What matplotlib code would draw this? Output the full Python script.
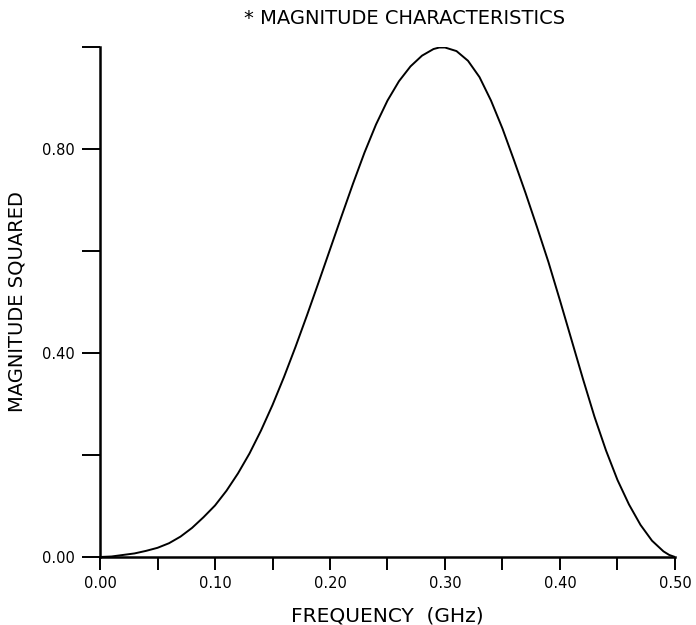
import numpy as np
import matplotlib
matplotlib.use('Agg')
import matplotlib.pyplot as plt

# Magnitude squared of the filter response
freq_ghz = [0.00, 0.01, 0.02, 0.03, 0.04, 0.05, 0.06, 0.07, 0.08, 0.09,
            0.10, 0.11, 0.12, 0.13, 0.14, 0.15, 0.16, 0.17, 0.18, 0.19,
            0.20, 0.21, 0.22, 0.23, 0.24, 0.25, 0.26, 0.27, 0.28, 0.29,
            0.295, 0.30, 0.31, 0.32, 0.33, 0.34, 0.35, 0.36, 0.37, 0.38,
            0.39, 0.40, 0.41, 0.42, 0.43, 0.44, 0.45, 0.46, 0.47, 0.48,
            0.49, 0.495, 0.50]
mag_sq = [0.000, 0.001, 0.004, 0.007, 0.012, 0.018, 0.027, 0.040, 0.057, 0.078,
          0.101, 0.130, 0.164, 0.203, 0.248, 0.298, 0.353, 0.412, 0.474, 0.538,
          0.603, 0.668, 0.732, 0.793, 0.848, 0.895, 0.933, 0.962, 0.983, 0.996,
          0.999, 0.999, 0.992, 0.973, 0.941, 0.895, 0.840, 0.778, 0.714, 0.647,
          0.578, 0.503, 0.426, 0.349, 0.275, 0.209, 0.151, 0.103, 0.063, 0.032,
          0.011, 0.004, 0.000]

x_major = [0.0, 0.1, 0.2, 0.3, 0.4, 0.5]
x_minor = [0.05, 0.15, 0.25, 0.35, 0.45]
x_labels = ['0.00', '0.10', '0.20', '0.30', '0.40', '0.50']
y_major = [0.0, 0.4, 0.8]
y_minor = [0.2, 0.6, 1.0]
y_labels = ['0.00', '0.40', '0.80']

fig = plt.figure(figsize=(6.96, 6.25), dpi=100)
ax = fig.add_axes([0.1437, 0.1088, 0.8261, 0.816])

ax.plot(freq_ghz, mag_sq, color='black', linewidth=1.4, solid_joinstyle='round')

ax.set_xlim(0, 0.5)
ax.set_ylim(0, 1.0)

# only left and bottom axis lines, ticks pointing outward
ax.spines['top'].set_visible(False)
ax.spines['right'].set_visible(False)
ax.spines['left'].set_linewidth(1.8)
ax.spines['bottom'].set_linewidth(1.8)

ax.set_xticks(x_major)
ax.set_xticklabels(x_labels)
ax.set_xticks(x_minor, minor=True)
ax.set_yticks(y_major)
ax.set_yticklabels(y_labels)
ax.set_yticks(y_minor, minor=True)

ax.tick_params(axis='x', which='both', direction='out', length=9, width=1.4, pad=5, labelsize=10.5)
ax.tick_params(axis='y', which='both', direction='out', length=13, width=1.4, pad=5, labelsize=10.5)

ax.set_xlabel('FREQUENCY  (GHz)', fontsize=14.5, labelpad=11)
ax.set_ylabel('MAGNITUDE SQUARED', fontsize=14, labelpad=11)

fig.text(405 / 696, 1 - 18 / 625, '* MAGNITUDE CHARACTERISTICS',
         fontsize=14, ha='center', va='center')

plt.savefig('out.png', dpi=100)
